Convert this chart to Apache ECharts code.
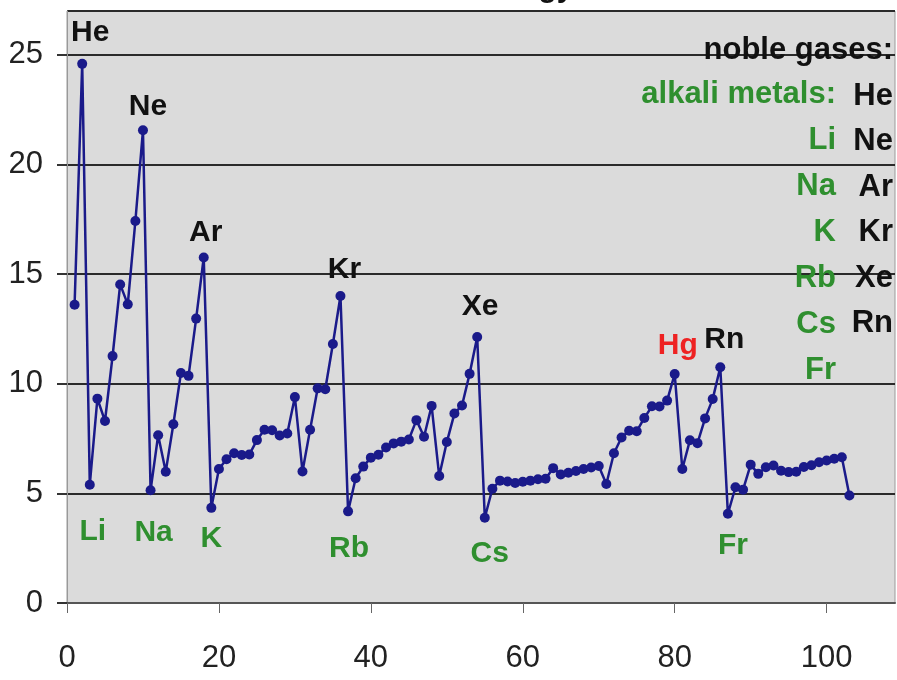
<!DOCTYPE html>
<html>
<head>
<meta charset="utf-8">
<script src="https://cdn.jsdelivr.net/npm/echarts@6/dist/echarts.min.js"></script>
<style>
html,body{margin:0;padding:0;background:#fff;}
#chart{width:897px;height:680px;}
</style>
</head>
<body>
<div id="chart"></div>
<script>
// First ionization energy (eV) for Z = 1 .. 103
const ionizationEnergy = [
  13.60, 24.59, 5.39, 9.32, 8.30, 11.26, 14.53, 13.62, 17.42, 21.56,
  5.14, 7.65, 5.99, 8.15, 10.49, 10.36, 12.97, 15.76, 4.34, 6.11,
  6.56, 6.83, 6.75, 6.77, 7.43, 7.90, 7.88, 7.64, 7.73, 9.39,
  6.00, 7.90, 9.79, 9.75, 11.81, 14.00, 4.18, 5.69, 6.22, 6.63,
  6.76, 7.09, 7.28, 7.36, 7.46, 8.34, 7.58, 8.99, 5.79, 7.34,
  8.64, 9.01, 10.45, 12.13, 3.89, 5.21, 5.58, 5.54, 5.47, 5.53,
  5.58, 5.64, 5.67, 6.15, 5.86, 5.94, 6.02, 6.11, 6.18, 6.25,
  5.43, 6.83, 7.55, 7.86, 7.83, 8.44, 8.97, 8.96, 9.23, 10.44,
  6.11, 7.42, 7.29, 8.42, 9.30, 10.75, 4.07, 5.28, 5.17, 6.31,
  5.89, 6.19, 6.27, 6.03, 5.97, 5.99, 6.20, 6.28, 6.42, 6.50,
  6.58, 6.65, 4.90
];
const xTicks = [0, 20, 40, 60, 80, 100];
const yTicks = [0, 5, 10, 15, 20, 25];

const nobleGases = { 2: 'He', 10: 'Ne', 18: 'Ar', 36: 'Kr', 54: 'Xe', 86: 'Rn' };
const alkaliMetals = { 3: 'Li', 11: 'Na', 19: 'K', 37: 'Rb', 55: 'Cs', 87: 'Fr' };
const highlighted = { 80: 'Hg' };

const legendNoble = ['noble gases:', 'He', 'Ne', 'Ar', 'Kr', 'Xe', 'Rn'];
const legendAlkali = ['alkali metals:', 'Li', 'Na', 'K', 'Rb', 'Cs', 'Fr'];

const FONT = '"Liberation Sans", Arial, sans-serif';
const GREEN = '#2f8f2f';
const NAVY = '#1a1a8a';
const SYM = 10;

// label centre offsets from the point (style, not data)
const labelOffsets = {
  2: [8, -31], 10: [5, -24], 18: [2, -25], 36: [4, -26], 54: [3, -30], 86: [4, -28], 80: [3, -28],
  3: [3, 47], 11: [3, 42], 19: [0, 31], 37: [1, 37], 55: [5, 36], 87: [5, 32]
};

const seriesData = ionizationEnergy.map((v, i) => {
  const z = i + 1;
  const item = { value: [z, v] };
  let name = null, color = null;
  if (nobleGases[z]) { name = nobleGases[z]; color = '#111'; }
  else if (alkaliMetals[z]) { name = alkaliMetals[z]; color = GREEN; }
  else if (highlighted[z]) { name = highlighted[z]; color = '#ee2222'; }
  if (name) {
    const off = labelOffsets[z];
    item.label = {
      show: true,
      position: [SYM / 2 + off[0], SYM / 2 + off[1]],
      align: 'center',
      verticalAlign: 'middle',
      formatter: name,
      color: color,
      fontFamily: FONT,
      fontWeight: 'bold',
      fontSize: 30
    };
  }
  return item;
});

const chart = echarts.init(document.getElementById('chart'), null, { renderer: 'canvas' });
chart.setOption({
  animation: false,
  backgroundColor: '#ffffff',
  title: {
    text: 'Ionization Energy',
    left: 'center',
    top: -31,
    textStyle: { fontFamily: FONT, fontWeight: 'bold', fontSize: 30, color: '#111' }
  },
  grid: {
    left: 67, right: 2, top: 11, bottom: 77,
    show: true, backgroundColor: '#dbdbdb', borderColor: '#9a9a9a', borderWidth: 1,
    containLabel: false
  },
  xAxis: {
    type: 'value', min: 0, max: 109, interval: 20,
    axisLine: { show: true, lineStyle: { color: '#555', width: 2 } },
    axisTick: { show: true, length: 10, lineStyle: { color: '#666', width: 1 } },
    axisLabel: {
      showMaxLabel: false, margin: 40, fontFamily: FONT, fontSize: 31, color: '#222',
      formatter: v => (xTicks.indexOf(v) >= 0 ? String(v) : '')
    },
    splitLine: { show: false }
  },
  yAxis: {
    type: 'value', min: 0, max: 27, interval: 5,
    axisLine: { show: true, lineStyle: { color: '#999', width: 1 } },
    axisTick: { show: true, length: 10, lineStyle: { color: '#333', width: 2 } },
    axisLabel: {
      showMaxLabel: false, margin: 24, fontFamily: FONT, fontSize: 31, color: '#222',
      formatter: v => (yTicks.indexOf(v) >= 0 ? String(v) : '')
    },
    splitLine: { show: true, lineStyle: { color: '#2a2a2a', width: 2 } }
  },
  series: [{
    type: 'line',
    data: seriesData,
    symbol: 'circle',
    symbolSize: SYM,
    lineStyle: { color: NAVY, width: 2.5 },
    itemStyle: { color: NAVY },
    labelLayout: { hideOverlap: false }
  }],
  graphic: [
    {
      type: 'text', x: 893, y: 28, z: 100,
      style: {
        text: legendNoble.join('\n'), fill: '#111', align: 'right', verticalAlign: 'top',
        font: 'bold 31px ' + FONT, lineHeight: 45.5
      }
    },
    {
      type: 'text', x: 836, y: 71, z: 100,
      style: {
        text: legendAlkali.join('\n'), fill: GREEN, align: 'right', verticalAlign: 'top',
        font: 'bold 31px ' + FONT, lineHeight: 46
      }
    }
  ]
});
</script>
</body>
</html>
